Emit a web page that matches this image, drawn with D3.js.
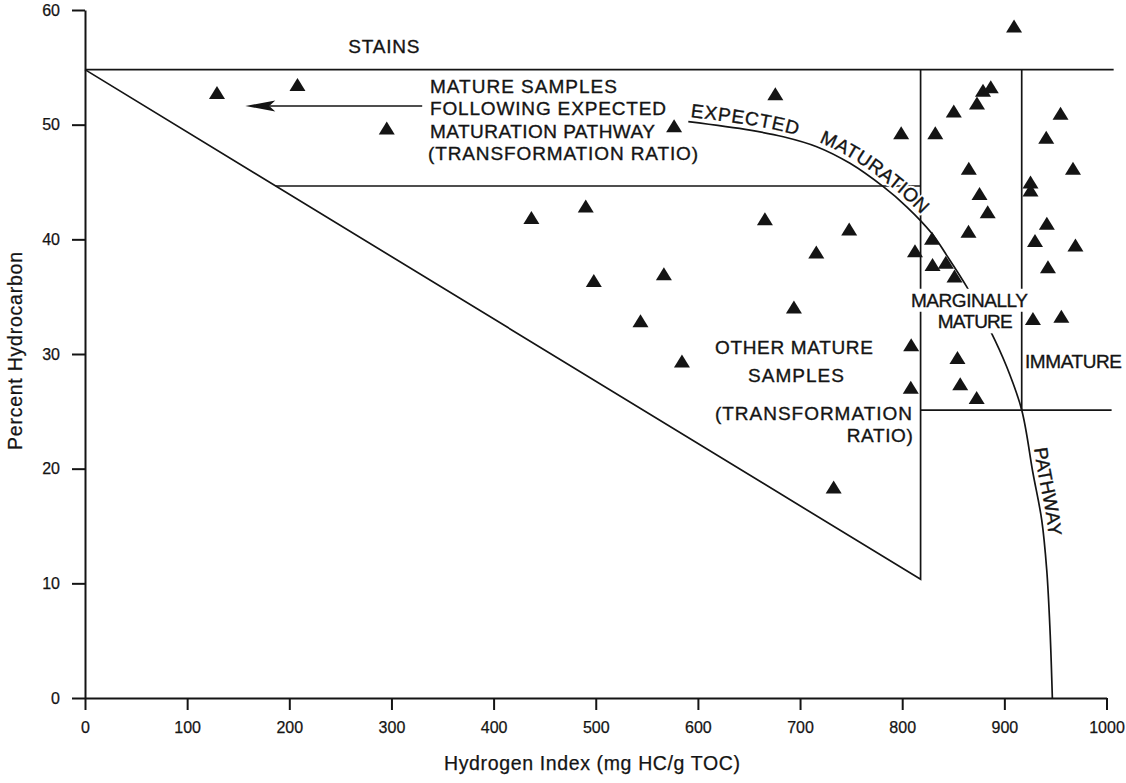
<!DOCTYPE html>
<html>
<head>
<meta charset="utf-8">
<script src="https://cdn.jsdelivr.net/npm/d3@7"></script>
<style>
  html, body { margin: 0; padding: 0; background: #fff; }
  svg { display: block; font-family: "Liberation Sans", Arial, Helvetica, sans-serif; }
</style>
</head>
<body>
<svg id="chart" width="1126" height="783"></svg>
<script>
// Samples: hydrogen index (mg HC/g TOC) and percent hydrocarbon
const sampleHI = [129.2, 208.0, 295.4, 576.7, 675.8, 437.0, 490.2, 665.6, 748.1, 715.9,
                  498.1, 566.7, 694.0, 543.8, 584.4, 732.9, 909.5, 879.1, 886.7, 873.2,
                  850.5, 799.0, 832.4, 955.0, 941.0, 967.2, 865.2, 925.6, 925.6, 875.7,
                  883.7, 864.9, 941.6, 930.0, 969.6, 829.2, 812.5, 829.7, 842.7, 851.2,
                  942.7, 928.0, 955.8, 808.8, 854.1, 808.4, 856.8, 872.9];
const samplePHC = [52.8, 53.5, 49.7, 49.9, 52.7, 41.9, 42.9, 41.8, 40.9, 38.9,
                   36.4, 37.0, 34.1, 32.9, 29.4, 18.4, 58.6, 53.0, 53.3, 51.9,
                   51.2, 49.3, 49.3, 51.0, 48.9, 46.2, 46.2, 45.0, 44.3, 44.0,
                   42.4, 40.7, 41.4, 39.9, 39.5, 40.1, 39.0, 37.8, 38.0, 36.8,
                   37.6, 33.1, 33.3, 30.8, 29.7, 27.1, 27.4, 26.2];

// Expected maturation pathway
const pathwayHI  = [590.6, 651.0, 683.6, 716.3, 748.9, 781.5, 804.4, 828.9, 843.6, 863.1,
                    886.0, 902.3, 917.0, 928.0, 936.6, 941.5, 944.7, 947.0];
const pathwayPHC = [50.26, 49.52, 48.95, 48.08, 46.63, 44.59, 42.84, 40.53, 38.6, 35.87,
                    32.09, 28.89, 25.12, 19.62, 15.52, 11.16, 5.93, 0];

// Field boundaries
const stainsPHC = 54.8;          // upper limit of mature / marginal / immature fields
const stainsEndHI = 1007;
const wedgeApexHI = 818;         // transformation-ratio wedge
const wedgeApexPHC = 10.35;
const pathwayBandPHC = 44.65;    // lower edge of the expected-pathway band
const immatureHI = 917;
const immaturePHC = 25.1;
const immatureEndHI = 1005;

// Arrow pointing to the mature samples on the expected pathway
const arrowFromHI = 330.1, arrowToHI = 156.9, arrowPHC = 51.63;

// Axis ticks
const xTicks = [0, 100, 200, 300, 400, 500, 600, 700, 800, 900, 1000];
const yTicks = [0, 10, 20, 30, 40, 50, 60];

const svg = d3.select("#chart");
const ink = "#141414";
const inkWeight = 0.35;   // slight stroke gives the lettering its printed weight
const labelSize = "19px";

const x = d3.scaleLinear().domain([0, 1000]).range([85, 1106.5]);
const y = d3.scaleLinear().domain([0, 60]).range([698, 10]);

// Axes
const yAxis = svg.append("g")
  .attr("transform", `translate(${x(0)},0)`)
  .call(d3.axisLeft(y).tickValues(yTicks).tickFormat(d3.format("d"))
    .tickSize(13).tickSizeOuter(0).tickPadding(12));
const xAxis = svg.append("g")
  .attr("transform", `translate(0,${y(0)})`)
  .call(d3.axisBottom(x).tickValues(xTicks).tickFormat(d3.format("d"))
    .tickSize(12).tickSizeOuter(0).tickPadding(11.5));
[xAxis, yAxis].forEach(g => {
  g.selectAll("path.domain").attr("stroke", ink).attr("stroke-width", 2);
  g.selectAll(".tick line").attr("stroke", ink).attr("stroke-width", 2);
  g.selectAll(".tick text").attr("fill", ink)
    .attr("stroke", ink).attr("stroke-width", 0.25)
    .style("font-size", "16px")
    .style("font-family", '"Liberation Sans", Arial, sans-serif');
});

// Axis titles
svg.append("text")
  .attr("x", 592).attr("y", 770)
  .attr("text-anchor", "middle")
  .attr("textLength", 296).attr("lengthAdjust", "spacing")
  .style("font-size", "19.5px").attr("fill", ink)
  .attr("stroke", ink).attr("stroke-width", 0.25)
  .text("Hydrogen Index (mg HC/g TOC)");
svg.append("text")
  .attr("transform", "translate(22,351) rotate(-90)")
  .attr("text-anchor", "middle")
  .attr("textLength", 198).attr("lengthAdjust", "spacing")
  .style("font-size", "19.5px").attr("fill", ink)
  .attr("stroke", ink).attr("stroke-width", 0.25)
  .text("Percent Hydrocarbon");

// Field boundary lines
const bandStartHI = (stainsPHC - pathwayBandPHC) / (stainsPHC - wedgeApexPHC) * wedgeApexHI;
const boundaries = [
  [[0, stainsPHC], [stainsEndHI, stainsPHC]],
  [[0, stainsPHC], [wedgeApexHI, wedgeApexPHC], [wedgeApexHI, stainsPHC]],
  [[bandStartHI, pathwayBandPHC], [wedgeApexHI, pathwayBandPHC]],
  [[immatureHI, stainsPHC], [immatureHI, immaturePHC]],
  [[wedgeApexHI, immaturePHC], [immatureEndHI, immaturePHC]]
];
const segLine = d3.line().x(d => x(d[0])).y(d => y(d[1]));
svg.append("g").selectAll("path").data(boundaries).join("path")
  .attr("d", segLine)
  .attr("fill", "none").attr("stroke", ink).attr("stroke-width", 1.7);

// Expected maturation pathway curve
const pathway = pathwayHI.map((h, i) => [h, pathwayPHC[i]]);
const pathNode = svg.append("path")
  .attr("id", "pathway")
  .attr("d", d3.line().x(d => x(d[0])).y(d => y(d[1])).curve(d3.curveCatmullRom.alpha(0.5))(pathway))
  .attr("fill", "none").attr("stroke", ink).attr("stroke-width", 1.7)
  .node();

// Arrow
svg.append("line")
  .attr("x1", x(arrowFromHI)).attr("y1", y(arrowPHC))
  .attr("x2", x(arrowToHI) + 24).attr("y2", y(arrowPHC))
  .attr("stroke", ink).attr("stroke-width", 1.7);
{
  const tx = x(arrowToHI), ty = y(arrowPHC);
  svg.append("path")
    .attr("d", `M${tx},${ty} L${tx + 30},${ty - 5.5} L${tx + 24},${ty} L${tx + 30},${ty + 5.5} Z`)
    .attr("fill", ink);
}

// Curved labels along the pathway
function lengthWhere(test) {
  let lo = 0, hi = pathNode.getTotalLength();
  for (let i = 0; i < 40; i++) {
    const mid = (lo + hi) / 2;
    if (test(pathNode.getPointAtLength(mid))) hi = mid; else lo = mid;
  }
  return hi;
}
const curvedLabels = [
  { text: "EXPECTED",   at: lengthWhere(p => p.x >= x(592)),   spacing: 0.8 },
  { text: "MATURATION", at: lengthWhere(p => p.x >= x(716.5)), spacing: 0.2 },
  { text: "PATHWAY",    at: lengthWhere(p => p.y >= y(21.7)),  spacing: 0 }
];
curvedLabels.forEach(l => {
  // white knock-out behind the lettering, then the lettering itself
  [["#fff", 4, "#fff"], [ink, inkWeight, ink]].forEach(([stroke, sw, fill]) => {
    svg.append("text")
      .style("font-size", labelSize)
      .attr("fill", fill)
      .attr("stroke", stroke).attr("stroke-width", sw)
      .attr("stroke-linejoin", "round")
      .style("letter-spacing", l.spacing + "px")
      .attr("dy", -5)
      .append("textPath")
      .attr("href", "#pathway")
      .attr("startOffset", l.at)
      .text(l.text);
  });
});

// Field labels (anchored in data units)
const fieldLabels = [
  { text: "STAINS", hi: 257.8, phc: 56.22, w: 71 },
  { text: "MATURE SAMPLES", hi: 337.7, phc: 52.74, w: 187 },
  { text: "FOLLOWING EXPECTED", hi: 337.7, phc: 50.84, w: 236 },
  { text: "MATURATION PATHWAY", hi: 337.7, phc: 48.81, w: 225 },
  { text: "(TRANSFORMATION RATIO)", hi: 335.8, phc: 46.88, w: 270 },
  { text: "OTHER MATURE", hi: 616.7, phc: 29.96, w: 158 },
  { text: "SAMPLES", hi: 649.0, phc: 27.58, w: 96 },
  { text: "(TRANSFORMATION", hi: 616.7, phc: 24.24, w: 197 },
  { text: "RATIO)", hi: 745.7, phc: 22.35, w: 66 },
  { text: "MARGINALLY", hi: 808.6, phc: 34.12, w: 117, box: true },
  { text: "MATURE", hi: 834.8, phc: 32.24, w: 75, box: true },
  { text: "IMMATURE", hi: 920.2, phc: 28.75, w: 97 }
];
const labelLayer = svg.append("g");
fieldLabels.forEach(l => {
  const t = labelLayer.append("text")
    .attr("x", x(l.hi)).attr("y", y(l.phc))
    .attr("textLength", l.w).attr("lengthAdjust", "spacing")
    .style("font-size", labelSize).attr("fill", ink)
    .attr("stroke", ink).attr("stroke-width", inkWeight)
    .text(l.text);
  if (l.box) {
    const b = t.node().getBBox();
    labelLayer.insert("rect", () => t.node())
      .attr("x", b.x - 3).attr("y", b.y - 1)
      .attr("width", b.width + 6).attr("height", b.height + 2)
      .attr("fill", "#fff");
  }
});

// Sample markers
const samples = sampleHI.map((h, i) => [h, samplePHC[i]]);
svg.append("g").selectAll("path").data(samples).join("path")
  .attr("transform", d => `translate(${x(d[0])},${y(d[1])})`)
  .attr("d", "M0,-6.5L8,6.5L-8,6.5Z")
  .attr("fill", ink);
</script>
</body>
</html>
